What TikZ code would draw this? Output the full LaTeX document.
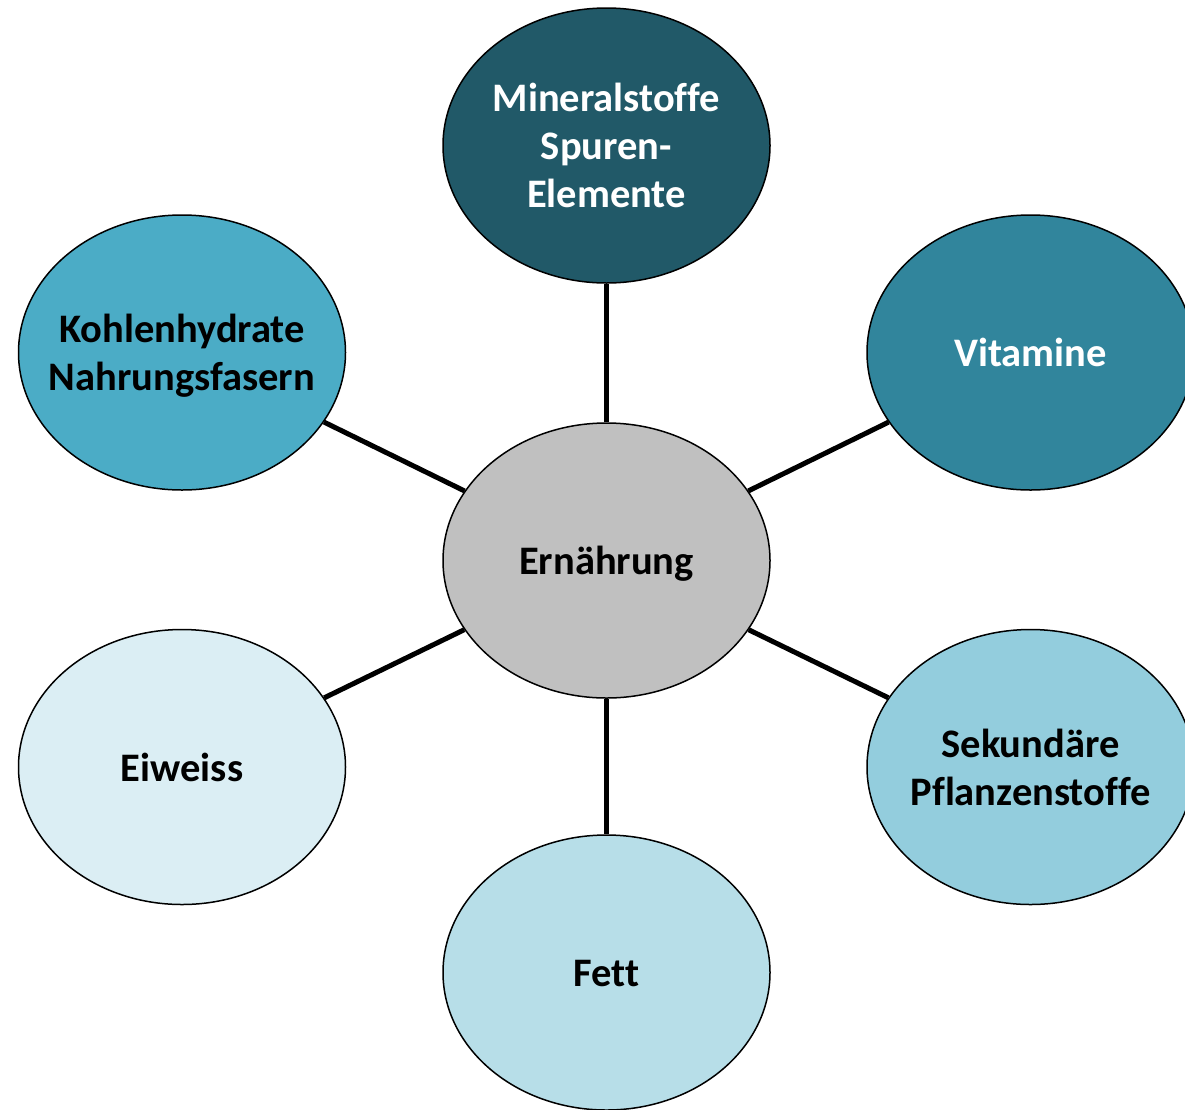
\documentclass[tikz,border=0pt]{standalone}
\usepackage{fontspec}
\setmainfont[Ligatures=NoCommon]{Carlito}
\usetikzlibrary{shapes.geometric}
\definecolor{cMin}{HTML}{215968}
\definecolor{cVit}{HTML}{31859C}
\definecolor{cKoh}{HTML}{4BACC6}
\definecolor{cEiw}{HTML}{DBEEF4}
\definecolor{cFet}{HTML}{B7DEE8}
\definecolor{cSek}{HTML}{93CDDD}
\definecolor{cCen}{HTML}{C0C0C0}
\newcommand{\bubtext}[1]{\raisebox{-4.5pt}[\height][\depth]{\makebox[0pt]{\begin{tabular}{@{}c@{}}#1\end{tabular}}}}
\tikzset{
  bubble/.style={ellipse, draw=black, line width=1.5pt, minimum width=327pt, minimum height=275pt,
    inner sep=0pt, font=\bfseries\fontsize{40.5}{48}\selectfont},
  link/.style={line width=5pt, black}
}
\begin{document}
\begin{tikzpicture}[x=1pt,y=-1pt]
\useasboundingbox (0,0) rectangle (1185,1109);
\begin{scope}
\clip (0,0) rectangle (1185,1109);
\node[bubble, fill=cCen] (c) at (606.5,560.5) {\bubtext{Ernährung}};
\node[bubble, fill=cMin, text=white] (min) at (606.5,145.5) {\bubtext{Mineralstoffe\\Spuren-\\Elemente}};
\node[bubble, fill=cVit, text=white] (vit) at (1030.5,352.5) {\bubtext{Vitamine}};
\node[bubble, fill=cKoh] (koh) at (182,352.5) {\bubtext{Kohlenhydrate\\Nahrungsfasern}};
\node[bubble, fill=cEiw] (eiw) at (182,767) {\bubtext{Eiweiss}};
\node[bubble, fill=cSek] (sek) at (1030.5,767) {\bubtext{Sekundäre\\Pflanzenstoffe}};
\node[bubble, fill=cFet] (fet) at (606.5,972.5) {\bubtext{Fett}};
\draw[link] (c) -- (min);
\draw[link] (c) -- (vit);
\draw[link] (c) -- (koh);
\draw[link] (c) -- (eiw);
\draw[link] (c) -- (sek);
\draw[link] (c) -- (fet);
\end{scope}
\end{tikzpicture}
\end{document}
